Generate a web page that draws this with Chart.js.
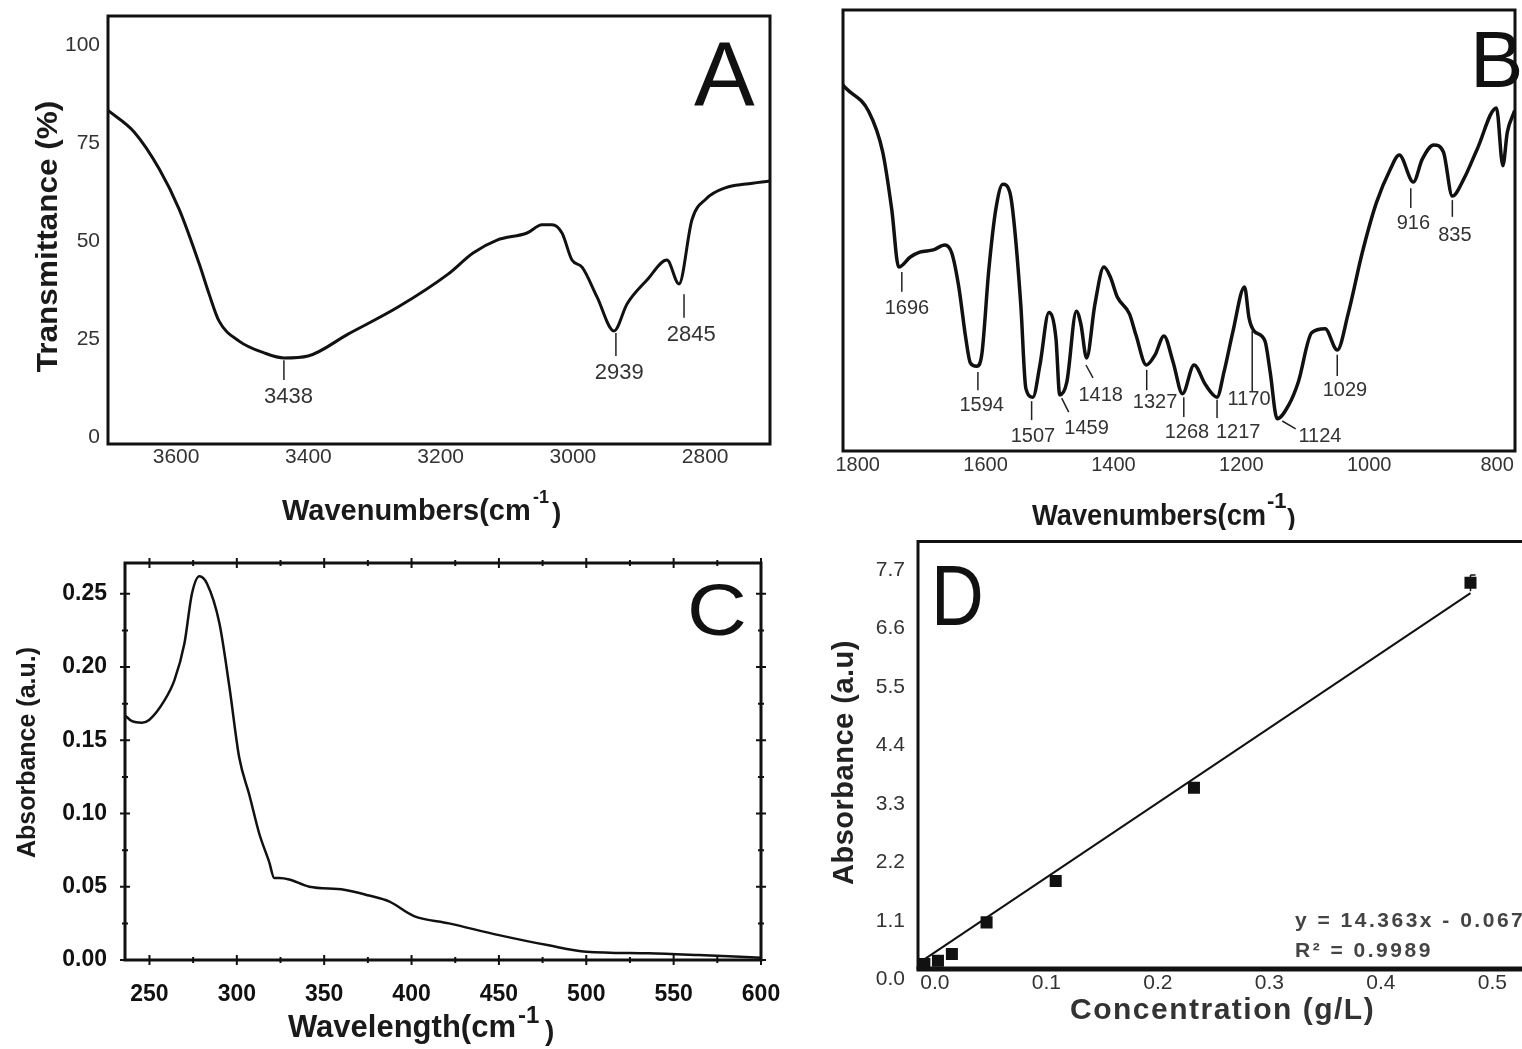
<!DOCTYPE html>
<html>
<head>
<meta charset="utf-8">
<script src="https://cdn.jsdelivr.net/npm/chart.js@4.4.1/dist/chart.umd.min.js"></script>
<style>
  html, body { margin: 0; padding: 0; background: #fff; }
  body { width: 1522px; height: 1049px; position: relative; overflow: hidden; }
  canvas { position: absolute; }
</style>
</head>
<body>
<canvas id="chartA" width="790" height="530" style="left:0;top:0"></canvas>
<canvas id="chartB" width="732" height="530" style="left:790px;top:0"></canvas>
<canvas id="chartC" width="790" height="519" style="left:0;top:530px"></canvas>
<canvas id="chartD" width="732" height="519" style="left:790px;top:530px"></canvas>
<script>
// ---- panel A: FTIR 3700-2700 cm-1
const wavenumA = [3703, 3663.5, 3625.7, 3595.5, 3565.2, 3550.1, 3535, 3504.8, 3467, 3436.7, 3400.5, 3340, 3264.4, 3188.8, 3151, 3114.7, 3069.4, 3046.7, 3031.6, 3016.5, 3001.4, 2986.2, 2963.6, 2937.9, 2918.2, 2888, 2857.8, 2839.6, 2820, 2798.8, 2768.6, 2738.4, 2702];
const transA = [83.3, 77.8, 68.4, 58.1, 44.2, 36.4, 29.5, 24.4, 21.4, 20.1, 20.6, 26.2, 33.1, 41.5, 46.9, 50.2, 52.0, 54.1, 54.1, 52.0, 45.1, 43.3, 35.7, 27.0, 33.9, 40.0, 45.1, 39.0, 55.4, 60.7, 63.6, 64.5, 65.3];
const ticksAX = [3600, 3400, 3200, 3000, 2800];
const ticksAY = [0, 25, 50, 75, 100];
const peaksA = [
  { text: '3438', x1: 3437, y1: 19.5, x2: 3437, y2: 14.5, lx: 3430, ly: 10.1 },
  { text: '2939', x1: 2935, y1: 26.5, x2: 2935, y2: 20.6, lx: 2930, ly: 16.3 },
  { text: '2845', x1: 2832, y1: 36.4, x2: 2832, y2: 30.4, lx: 2821, ly: 26.1 }
];

// ---- panel B: FTIR 1800-780 cm-1
const wavenumB = [1823, 1818.8, 1782.8, 1760.9, 1746.8, 1735.8, 1717.7, 1703, 1681.7, 1663.8, 1652.9, 1641.9, 1631, 1623.9, 1613.8, 1606, 1595, 1584, 1573, 1562, 1556, 1545, 1537, 1526, 1515, 1501, 1490, 1484, 1473, 1458, 1451, 1442, 1429, 1415, 1405, 1394, 1375, 1365, 1348.5, 1335, 1321, 1307, 1292, 1274, 1256, 1238, 1227, 1213, 1195, 1188, 1180, 1163, 1155, 1144, 1126, 1111, 1090, 1069, 1050, 1033, 1011, 989, 967, 953, 931, 917, 899, 884, 870, 852, 831, 801, 791, 784, 773];
const transB = [83, 82.3, 77, 67.8, 54.8, 41.7, 44, 45.1, 45.6, 46.7, 44.9, 37.2, 25.6, 20, 19.2, 21.8, 41, 54.8, 60.5, 58.6, 52.5, 33.3, 14.2, 12.2, 19.5, 31.4, 25.6, 12.7, 15.6, 31.7, 28.8, 21.1, 33.3, 41.7, 39.5, 34.9, 31.1, 26.4, 19.5, 21.8, 26.1, 20.3, 13, 19.5, 15, 12.2, 18, 27.2, 37.2, 30.2, 27.2, 24.9, 18, 7.3, 10.4, 15.6, 26.8, 27.7, 22.9, 31.1, 44.9, 56.2, 63.9, 67.1, 61, 66.2, 69.4, 67.8, 57.8, 61.7, 68.5, 77.8, 64.7, 72.3, 77];
const ticksBX = [1800, 1600, 1400, 1200, 1000, 800];
const peaksB = [
  { text: '1696', x1: 1731, y1: 40.6, x2: 1731, y2: 36.1, lx: 1723, ly: 32.4 },
  { text: '1594', x1: 1612, y1: 17.9, x2: 1612, y2: 13.8, lx: 1606, ly: 10.4 },
  { text: '1507', x1: 1528, y1: 11.3, x2: 1528, y2: 7, lx: 1526, ly: 3.4 },
  { text: '1459', x1: 1481, y1: 12, x2: 1470, y2: 8.8, lx: 1442, ly: 5.2 },
  { text: '1418', x1: 1443, y1: 19.5, x2: 1432, y2: 16.6, lx: 1420, ly: 12.5 },
  { text: '1327', x1: 1348, y1: 18.4, x2: 1348, y2: 13.8, lx: 1335, ly: 11.1 },
  { text: '1268', x1: 1290, y1: 12.2, x2: 1290, y2: 7.7, lx: 1285, ly: 4.3 },
  { text: '1217', x1: 1238, y1: 11.6, x2: 1238, y2: 7.5, lx: 1205, ly: 4.3 },
  { text: '1170', x1: 1183, y1: 27.2, x2: 1183, y2: 13.6, lx: 1188, ly: 11.6 },
  { text: '1124', x1: 1136, y1: 6.8, x2: 1115, y2: 5, lx: 1077, ly: 3.2 },
  { text: '1029', x1: 1050, y1: 21.8, x2: 1050, y2: 17, lx: 1038, ly: 13.8 },
  { text: '916', x1: 935, y1: 59.6, x2: 935, y2: 55.1, lx: 931, ly: 51.5 },
  { text: '835', x1: 870, y1: 56.9, x2: 870, y2: 53.1, lx: 866, ly: 48.8 }
];

// ---- panel C: UV-vis absorbance
const lambdaC = [236, 240, 245.7, 250, 258.5, 264.3, 270, 274.3, 278.6, 282.9, 290, 295.8, 301.4, 307.1, 312.9, 318.5, 321.4, 324.2, 330, 341.5, 361.4, 375.7, 387.1, 401.4, 421.4, 450, 478.5, 500, 535.7, 564.3, 600];
const absC = [0.167, 0.163, 0.162, 0.164, 0.177, 0.191, 0.216, 0.250, 0.262, 0.257, 0.230, 0.186, 0.138, 0.113, 0.086, 0.067, 0.056, 0.056, 0.055, 0.050, 0.048, 0.044, 0.040, 0.030, 0.025, 0.017, 0.010, 0.0057, 0.0046, 0.0034, 0.0016];
const ticksCX = [250, 300, 350, 400, 450, 500, 550, 600];
const ticksCY = [0, 0.05, 0.10, 0.15, 0.20, 0.25];

// ---- panel D: calibration curve
const concD = [-0.0095, 0.0027, 0.0152, 0.0463, 0.1083, 0.2323, 0.4803];
const absD = [0.287, 0.349, 0.475, 1.07, 1.849, 3.602, 7.46];
const fitX = [-0.0136, 0.4803];
const fitY = [0.319, 7.262];
const errD = { x: 0.4803, lo: 7.3, hi: 7.604 };
const ticksDX = [0.0, 0.1, 0.2, 0.3, 0.4, 0.5];
const ticksDY = [1.1, 2.2, 3.3, 4.4, 5.5, 6.6, 7.7];
const eqD = ['y = 14.363x - 0.067', 'R\u00b2 = 0.9989'];

const FONT = '"Liberation Sans", Arial, Helvetica, sans-serif';
Chart.defaults.font.family = FONT;

function txt(ctx, s, x, y, size, o = {}) {
  ctx.save();
  ctx.font = (o.bold ? 'bold ' : '') + size + 'px ' + FONT;
  ctx.fillStyle = o.color || '#1a1a1a';
  ctx.textAlign = o.align || 'left';
  ctx.textBaseline = o.base || 'alphabetic';
  if (o.spacing) ctx.letterSpacing = o.spacing + 'px';
  ctx.translate(x, y);
  if (o.rot) ctx.rotate(o.rot);
  if (o.sx) ctx.scale(o.sx, 1);
  ctx.fillText(s, 0, 0);
  ctx.restore();
}

function frame(chart, lw, sides) {
  const { ctx, chartArea: a } = chart;
  ctx.save();
  ctx.strokeStyle = '#111';
  ctx.lineWidth = lw;
  ctx.lineCap = 'square';
  ctx.beginPath();
  if (sides.includes('t')) { ctx.moveTo(a.left, a.top); ctx.lineTo(a.right, a.top); }
  if (sides.includes('b')) { ctx.moveTo(a.left, a.bottom); ctx.lineTo(a.right, a.bottom); }
  if (sides.includes('l')) { ctx.moveTo(a.left, a.top); ctx.lineTo(a.left, a.bottom); }
  if (sides.includes('r')) { ctx.moveTo(a.right, a.top); ctx.lineTo(a.right, a.bottom); }
  ctx.stroke();
  ctx.restore();
}

function peaks(chart, list, size) {
  const { ctx, scales: { x, y } } = chart;
  ctx.save();
  ctx.strokeStyle = '#222';
  ctx.lineWidth = 1.5;
  list.forEach(p => {
    ctx.beginPath();
    ctx.moveTo(x.getPixelForValue(p.x1), y.getPixelForValue(p.y1));
    ctx.lineTo(x.getPixelForValue(p.x2), y.getPixelForValue(p.y2));
    ctx.stroke();
    txt(ctx, p.text, x.getPixelForValue(p.lx), y.getPixelForValue(p.ly), size, { align: 'center', base: 'middle', color: '#333' });
  });
  ctx.restore();
}

function axis(min, max, ticks, o) {
  return {
    type: 'linear', min, max, reverse: !!o.reverse,
    grid: { display: false, drawTicks: false },
    border: { display: false },
    ticks: {
      display: o.labels !== false,
      color: o.color || '#333',
      padding: o.pad || 0,
      font: { size: o.size || 20, weight: o.bold ? 'bold' : 'normal' },
      callback: v => (o.fmt ? o.fmt(v) : String(v))
    },
    afterBuildTicks: s => { s.ticks = ticks.map(v => ({ value: v })); },
    afterFit: s => {
      if (s.isHorizontal()) { s.height = o.extent; s.paddingLeft = 0; s.paddingRight = 0; }
      else { s.width = o.extent; s.paddingTop = 0; s.paddingBottom = 0; }
    }
  };
}

function base(pad) {
  return {
    responsive: false, animation: false, events: [],
    layout: { autoPadding: false, padding: { left: 0, bottom: 0, top: pad.top, right: pad.right } },
    plugins: { legend: { display: false }, tooltip: { enabled: false } }
  };
}

const curve = (xs, ys, lw) => ({
  data: xs.map((v, i) => ({ x: v, y: ys[i] })),
  borderColor: '#111', borderWidth: lw, pointRadius: 0,
  cubicInterpolationMode: 'monotone', borderJoinStyle: 'round', borderCapStyle: 'round'
});

// ---- A
new Chart(document.getElementById('chartA'), {
  type: 'line',
  data: { datasets: [curve(wavenumA, transA, 3)] },
  options: Object.assign(base({ top: 16, right: 20 }), {
    scales: {
      x: axis(2702, 3703, ticksAX, { reverse: true, extent: 86, pad: 1, size: 21 }),
      y: axis(-1.86, 107.4, ticksAY, { extent: 108, pad: 8, size: 21 })
    }
  }),
  plugins: [{
    id: 'decorA',
    afterDraw(chart) {
      const ctx = chart.ctx;
      frame(chart, 3, 'tblr');
      peaks(chart, peaksA, 22);
      txt(ctx, 'Transmittance (%)', 48.5, 236.5, 30, { bold: true, rot: -Math.PI / 2, align: 'center', base: 'middle', sx: 1.05 });
      txt(ctx, 'Wavenumbers(cm', 282, 520, 29, { bold: true });
      txt(ctx, '-1', 533, 503, 18, { bold: true });
      txt(ctx, ')', 552, 522, 28, { bold: true });
      txt(ctx, 'A', 694, 105, 91, { color: '#111' });
    }
  }]
});

// ---- B
new Chart(document.getElementById('chartB'), {
  type: 'line',
  data: { datasets: [curve(wavenumB, transB, 3.5)] },
  options: Object.assign(base({ top: 10, right: 7 }), {
    scales: {
      x: axis(772, 1823, ticksBX, { reverse: true, extent: 79, pad: 2, size: 20 }),
      y: axis(0, 100, [], { extent: 53, labels: false })
    }
  }),
  plugins: [{
    id: 'decorB',
    afterDraw(chart) {
      const ctx = chart.ctx;
      txt(ctx, 'B', 680, 87, 80, { color: '#111' });
      frame(chart, 3, 'tblr');
      peaks(chart, peaksB, 20);
      txt(ctx, 'Wavenumbers(cm', 242, 525, 30, { bold: true, sx: 0.91 });
      txt(ctx, '-1', 477, 508, 22, { bold: true });
      txt(ctx, ')', 497, 527, 26, { bold: true });
    }
  }]
});

// ---- C
new Chart(document.getElementById('chartC'), {
  type: 'line',
  data: { datasets: [curve(lambdaC, absC, 2.5)] },
  options: Object.assign(base({ top: 33, right: 29 }), {
    scales: {
      x: axis(236, 600, ticksCX, { extent: 89, pad: 21, size: 23, bold: true, color: '#111' }),
      y: axis(0, 0.271, ticksCY, { extent: 125, pad: 18, size: 23, bold: true, color: '#111', fmt: v => v.toFixed(2) })
    }
  }),
  plugins: [{
    id: 'decorC',
    afterDraw(chart) {
      const { ctx, chartArea: a, scales: { x, y } } = chart;
      frame(chart, 3, 'tblr');
      // major + minor tick marks on all four sides
      ctx.save();
      ctx.strokeStyle = '#111';
      ctx.lineWidth = 2;
      ctx.beginPath();
      const xs = [];
      ticksCX.forEach((v, i) => { xs.push([v, 5]); if (i < ticksCX.length - 1) xs.push([(v + ticksCX[i + 1]) / 2, 3]); });
      xs.forEach(([v, h]) => {
        const px = x.getPixelForValue(v);
        ctx.moveTo(px, a.bottom - h); ctx.lineTo(px, a.bottom + h);
        ctx.moveTo(px, a.top - h); ctx.lineTo(px, a.top + h);
      });
      const ys = [];
      ticksCY.forEach((v, i) => { ys.push([v, 5]); if (i < ticksCY.length - 1) ys.push([(v + ticksCY[i + 1]) / 2, 3]); });
      ys.forEach(([v, h]) => {
        const py = y.getPixelForValue(v);
        ctx.moveTo(a.left - h, py); ctx.lineTo(a.left + h, py);
        ctx.moveTo(a.right - h, py); ctx.lineTo(a.right + h, py);
      });
      ctx.stroke();
      ctx.restore();
      txt(ctx, 'Absorbance (a.u.)', 28.5, 222.5, 25, { bold: true, rot: -Math.PI / 2, align: 'center', base: 'middle' });
      txt(ctx, 'Wavelength(cm', 288, 507, 31, { bold: true });
      txt(ctx, '-1', 518, 493, 24, { bold: true });
      txt(ctx, ')', 545, 510, 28, { bold: true });
      txt(ctx, 'C', 687, 105, 72, { color: '#111', sx: 1.15 });
    }
  }]
});

// ---- D
new Chart(document.getElementById('chartD'), {
  type: 'scatter',
  data: {
    datasets: [
      { data: concD.map((c, i) => ({ x: c, y: absD[i] })), pointStyle: 'rect', pointRadius: 8.5, pointBackgroundColor: '#111', pointBorderWidth: 0 },
      { data: fitX.map((c, i) => ({ x: c, y: fitY[i] })), showLine: true, borderColor: '#111', borderWidth: 2, pointRadius: 0 },
      { data: [{ x: errD.x, y: errD.lo }, { x: errD.x, y: errD.hi }], showLine: true, borderColor: '#111', borderWidth: 1.5,
        pointStyle: 'dash', pointRadius: [0, 5], pointBorderColor: '#111', pointBorderWidth: 1.5 }
    ]
  },
  options: Object.assign(base({ top: 11.5, right: 0 }), {
    scales: {
      x: axis(-0.0152, 0.5265, ticksDX, { extent: 81, pad: 2.4, size: 21, fmt: v => v.toFixed(1) }),
      y: axis(0.212, 8.234, ticksDY, { extent: 128, pad: 13, size: 21, fmt: v => v.toFixed(1) })
    }
  }),
  plugins: [{
    id: 'decorD',
    afterDraw(chart) {
      const { ctx, chartArea: a, scales: { y } } = chart;
      frame(chart, 3, 'tl');
      ctx.save();
      ctx.strokeStyle = '#111'; ctx.lineWidth = 5;
      ctx.beginPath(); ctx.moveTo(a.left - 1.5, a.bottom + 1); ctx.lineTo(a.right, a.bottom + 1); ctx.stroke();
      ctx.restore();
      txt(ctx, '0.0', a.left - 13, y.getPixelForValue(0), 21, { align: 'right', base: 'middle', color: '#333' });
      txt(ctx, 'Absorbance (a.u)', 55, 232.5, 29, { bold: true, rot: -Math.PI / 2, align: 'center', base: 'middle', spacing: 0.5, color: '#222' });
      txt(ctx, 'Concentration (g/L)', 280, 489, 30, { bold: true, spacing: 1.5, color: '#333' });
      txt(ctx, 'D', 141, 95, 86, { color: '#111', sx: 0.85 });
      txt(ctx, eqD[0], 505, 397, 21, { bold: true, spacing: 2.5, color: '#444' });
      txt(ctx, eqD[1], 505, 427, 21, { bold: true, spacing: 2.5, color: '#444' });
    }
  }]
});
</script>
</body>
</html>
